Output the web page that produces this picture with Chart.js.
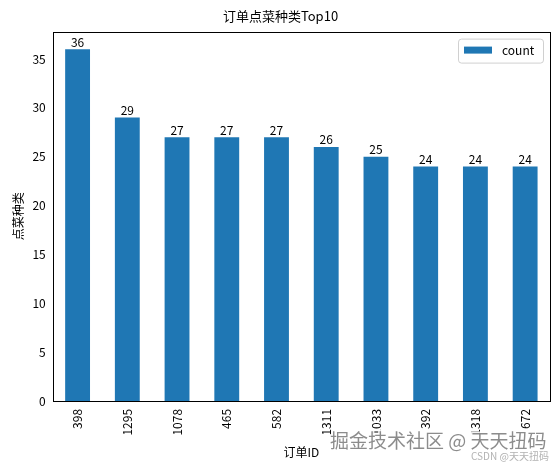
<!DOCTYPE html>
<html>
<head>
<meta charset="utf-8">
<script src="https://cdn.jsdelivr.net/npm/chart.js@4"></script>
<style>
  html, body { margin: 0; padding: 0; background: #fff; }
  #wrap { width: 558px; height: 467px; }
</style>
</head>
<body>
<div id="wrap"><canvas id="myChart"></canvas></div>
<script>
const orderIds = ['398', '1295', '1078', '465', '582', '1311', '1033', '392', '1318', '672'];
const counts = [36, 29, 27, 27, 27, 26, 25, 24, 24, 24];
const yTicks = [0, 5, 10, 15, 20, 25, 30, 35];

const FONT = '"Noto Sans CJK SC", "DejaVu Sans", sans-serif';

// frame, bar labels, legend box, watermark
const extras = {
  id: 'extras',
  afterDatasetsDraw(chart) {
    const ctx = chart.ctx;
    const a = chart.chartArea;
    ctx.save();
    ctx.strokeStyle = '#000';
    ctx.lineWidth = 1;
    ctx.strokeRect(Math.round(a.left) + 0.5, Math.round(a.top) + 0.5,
      Math.round(a.right - a.left), Math.round(a.bottom - a.top));

    ctx.fillStyle = '#000';
    ctx.font = '12px ' + FONT;
    ctx.textAlign = 'center';
    ctx.textBaseline = 'bottom';
    chart.getDatasetMeta(0).data.forEach((bar, i) => {
      ctx.fillText(String(counts[i]), bar.x, bar.y - 1);
    });

    // legend
    const lx = a.right - 92, ly = a.top + 7, lw = 85, lh = 24;
    ctx.beginPath();
    ctx.roundRect(lx + 0.5, ly + 0.5, lw, lh, 3);
    ctx.fillStyle = 'rgba(255,255,255,0.8)';
    ctx.fill();
    ctx.strokeStyle = '#d0d0d0';
    ctx.stroke();
    ctx.fillStyle = '#1f77b4';
    ctx.fillRect(lx + 6, ly + 8, 28, 7);
    ctx.fillStyle = '#000';
    ctx.textAlign = 'left';
    ctx.textBaseline = 'middle';
    ctx.fillText('count', lx + 44, ly + 12);

    // watermark
    ctx.font = '19px ' + FONT;
    ctx.textAlign = 'left';
    ctx.textBaseline = 'middle';
    ctx.lineWidth = 3;
    ctx.strokeStyle = 'rgba(255,255,255,0.9)';
    ctx.strokeText('掘金技术社区 @ 天天扭码', 330, 441);
    ctx.fillStyle = 'rgba(120,120,120,0.85)';
    ctx.fillText('掘金技术社区 @ 天天扭码', 330, 441);
    ctx.font = '10px ' + FONT;
    ctx.fillStyle = 'rgba(170,170,170,0.9)';
    ctx.fillText('CSDN @天天扭码', 471, 456);
    ctx.restore();
  }
};

new Chart(document.getElementById('myChart'), {
  type: 'bar',
  data: {
    labels: orderIds,
    datasets: [{
      label: 'count',
      data: counts,
      backgroundColor: '#1f77b4',
      borderWidth: 0,
      categoryPercentage: 1.0,
      barPercentage: 0.5
    }]
  },
  options: {
    responsive: true,
    maintainAspectRatio: false,
    animation: false,
    layout: { padding: { left: 11, right: 8, top: 4, bottom: 7 } },
    plugins: {
      legend: { display: false },
      tooltip: { enabled: false },
      title: {
        display: true,
        text: '订单点菜种类Top10',
        color: '#000',
        font: { family: FONT, size: 13, weight: 'normal' },
        padding: { top: 4, bottom: 8 }
      }
    },
    scales: {
      x: {
        grid: { display: false, drawTicks: true, tickLength: 4, tickColor: '#000' },
        border: { display: false },
        ticks: {
          color: '#000',
          font: { family: FONT, size: 12 },
          maxRotation: 90,
          minRotation: 90,
          padding: 4
        },
        title: {
          display: true,
          text: '订单ID',
          color: '#000',
          font: { family: FONT, size: 12 },
          padding: { top: 6, bottom: 0 }
        }
      },
      y: {
        min: 0,
        max: 37.8,
        afterBuildTicks(axis) {
          axis.ticks = yTicks.map(v => ({ value: v }));
        },
        grid: { display: false, drawTicks: true, tickLength: 4, tickColor: '#000' },
        border: { display: false },
        ticks: {
          color: '#000',
          font: { family: FONT, size: 12 },
          padding: 3
        },
        title: {
          display: true,
          text: '点菜种类',
          color: '#000',
          font: { family: FONT, size: 12 },
          padding: { top: 0, bottom: 4 }
        }
      }
    }
  },
  plugins: [extras]
});
</script>
</body>
</html>
